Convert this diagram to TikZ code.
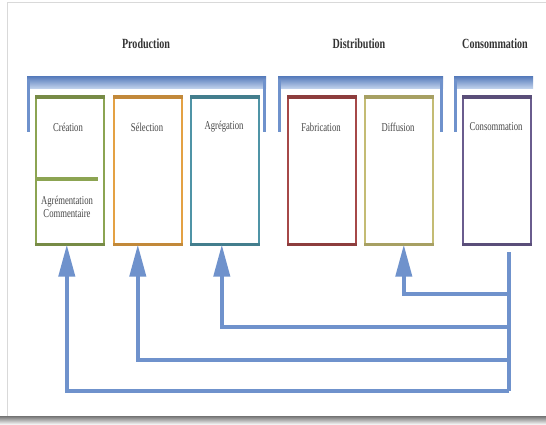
\documentclass[tikz,border=0pt]{standalone}
\usepackage{fontspec}
\setmainfont{Liberation Serif}
\newfontfamily\narrowfont[FakeStretch=0.72]{Liberation Serif}
\usetikzlibrary{arrows.meta}
\definecolor{cgreen}{HTML}{8CA452}
\definecolor{corange}{HTML}{E4A144}
\definecolor{cteal}{HTML}{4F94A6}
\definecolor{cred}{HTML}{A64848}
\definecolor{ckhaki}{HTML}{C4BC74}
\definecolor{cpurple}{HTML}{6A5C8E}
\definecolor{cblue}{HTML}{6F92CC}
\definecolor{cbluedark}{HTML}{5C80BE}
\definecolor{cbluelight}{HTML}{C6D6EE}
\tikzset{
  boxn/.style={draw=#1, line width=1.6pt, minimum width=68pt, minimum height=146pt, anchor=north west, inner sep=0pt},
  boxtxt/.style={font=\narrowfont\fontsize{12}{12.5}\selectfont, text=black!72, anchor=center, inner sep=1pt, align=center},
  head/.style={font=\narrowfont\bfseries\fontsize{14}{15}\selectfont, text=black!80, anchor=center},
  arr/.style={draw=cblue, line width=4pt, -{Triangle[width=16pt,length=32pt]}, color=cblue},
  trunk/.style={draw=cblue, line width=4.5pt},
  leg/.style={draw=cblue, line width=3pt},
}
\newcommand{\bracketbar}[2]{\shade[top color=cbluedark, bottom color=cbluelight] (#1,77) rectangle (#2,89);}
\begin{document}
\begin{tikzpicture}[x=1pt,y=-1pt]
\useasboundingbox (0,0) rectangle (546,425);
\fill[white] (0,0) rectangle (546,425);
% frame
\draw[black!15, line width=1pt] (7,418) -- (7,3) -- (546,3);
\shade[top color=black!55, bottom color=black!5] (0,416) rectangle (546,424);
% headings
\node[head] (hprod) at (146,44) {Production};
\node[head] (hdist) at (359,44) {Distribution};
\node[head] (hcons) at (495,44) {Consommation};
% brackets
\bracketbar{27}{266}
\draw[leg] (28.5,80) -- (28.5,132);
\draw[leg] (264.5,80) -- (264.5,132);
\bracketbar{278}{443}
\draw[leg] (279.5,80) -- (279.5,132);
\draw[leg] (441.5,80) -- (441.5,132);
\bracketbar{454}{533}
\draw[leg] (455.5,80) -- (455.5,132);
% boxes
\node[boxn=cgreen] (cre) at (35,97) {};
\node[boxn=corange] (sel) at (113,97) {};
\node[boxn=cteal] (agr) at (190,97) {};
\node[boxn=cred] (fab) at (287,97) {};
\node[boxn=ckhaki] (dif) at (364,97) {};
\node[boxn=cpurple] (con) at (462,97) {};
\foreach \b/\c in {cre/cgreen,sel/corange,agr/cteal,fab/cred,dif/ckhaki,con/cpurple}{
  \draw[\c!85!black, line width=3.5pt] (\b.north west) -- (\b.north east);
  \draw[\c!85!black, line width=3.5pt] (\b.south west) -- (\b.south east);
}
\draw[cgreen, line width=4.5pt] (35,179) -- (98,179);
% box texts
\node[boxtxt] (tcre) at (68,127) {Création};
\node[boxtxt] (tagr2) at (67,207) {Agrémentation\\Commentaire};
\node[boxtxt] (tsel) at (147,127) {Sélection};
\node[boxtxt] (tagr) at (224,127) {Agrégation};
\node[boxtxt] (tfab) at (321,127) {Fabrication};
\node[boxtxt] (tdif) at (398,127) {Diffusion};
\node[boxtxt] (tcon) at (496,127) {Consommation};
% connectors
\coordinate (ttop) at (509,252);
\coordinate (tbot) at (509,391);
\coordinate (j1) at (509,294);
\coordinate (j2) at (509,327);
\coordinate (j3) at (509,360);
\draw[trunk] (ttop) -- (tbot);
\draw[arr] (j1) -| ([xshift=5pt]dif.south);
\draw[arr] (j2) -| ([xshift=-3pt]agr.south);
\draw[arr] (j3) -| ([xshift=-10pt]sel.south);
\draw[arr] (tbot) -| ([xshift=-3pt]cre.south);
\end{tikzpicture}
\end{document}
